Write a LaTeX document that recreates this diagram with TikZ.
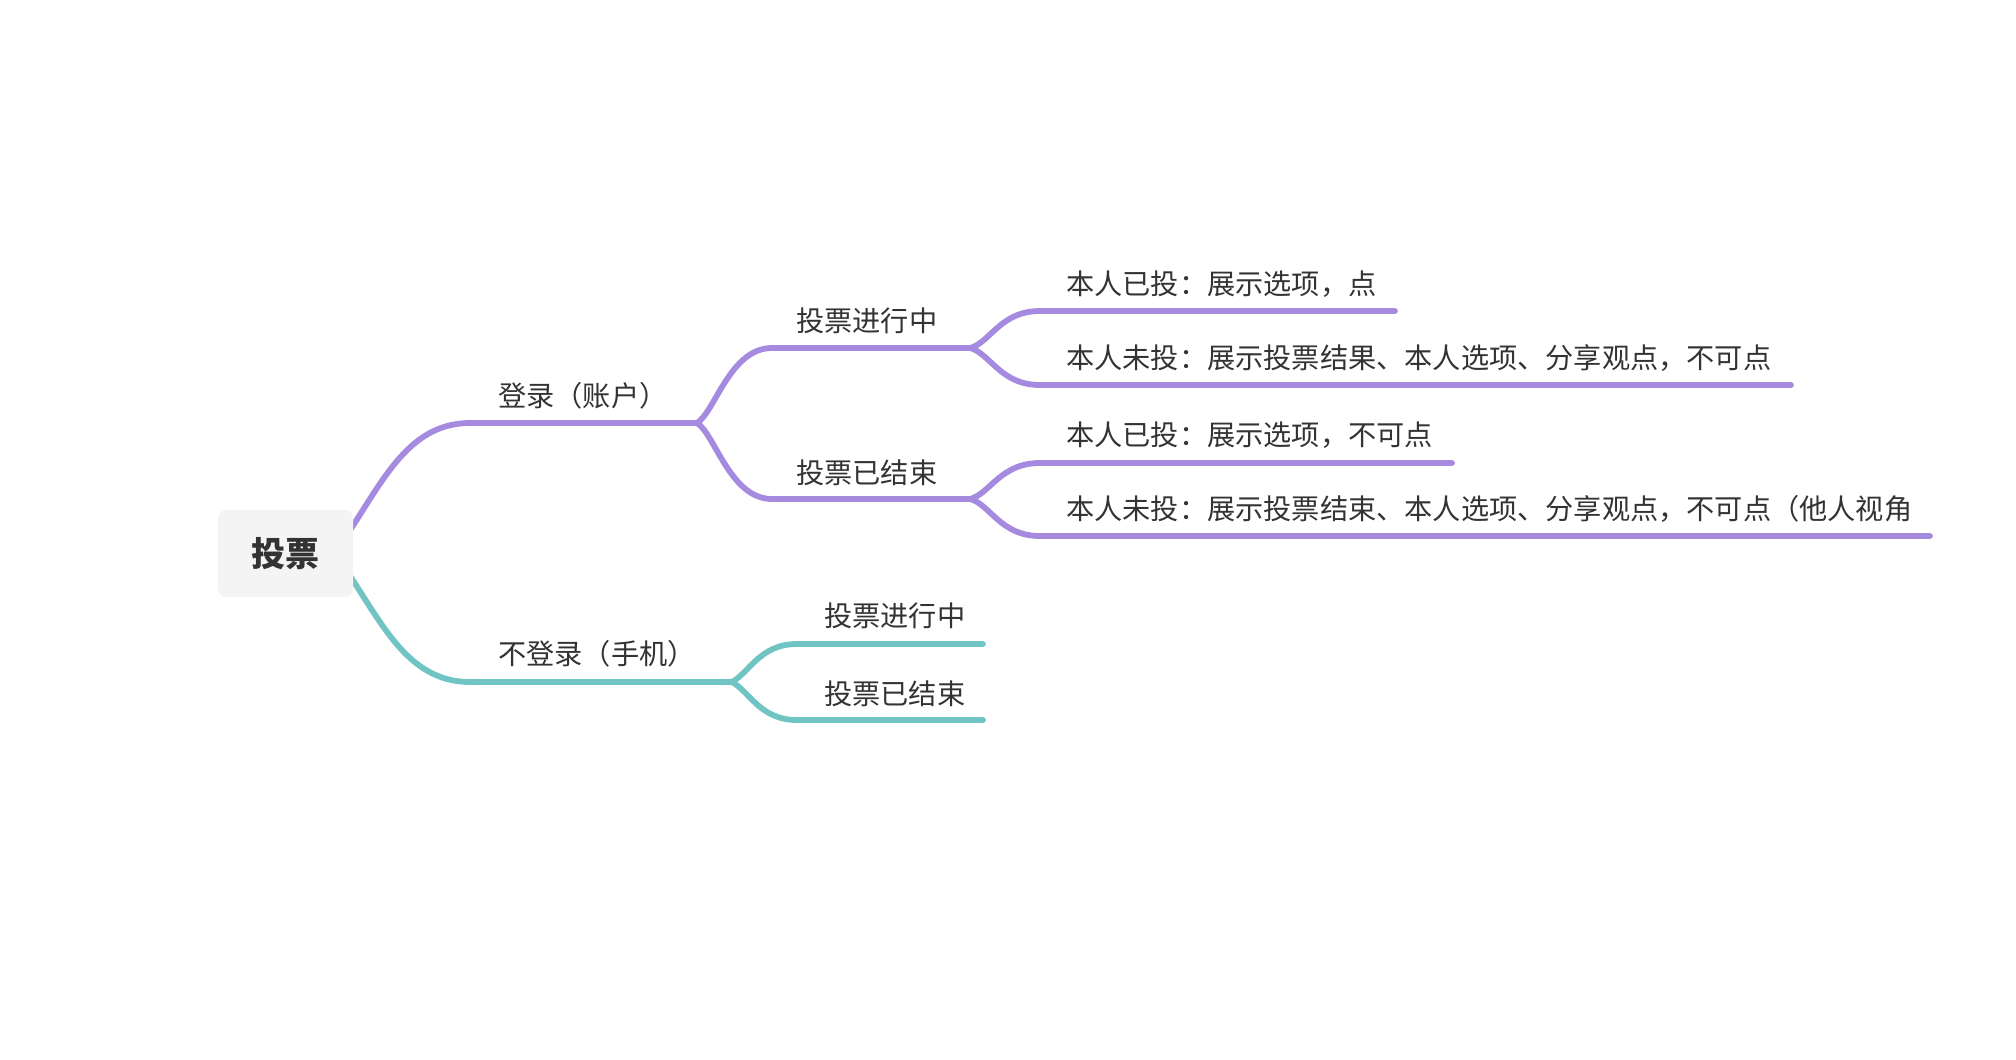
\documentclass[tikz,border=0pt]{standalone}
\usepackage{fontspec}
\setmainfont{Noto Sans CJK SC}
\definecolor{purp}{HTML}{A58ADF}
\definecolor{teal2}{HTML}{70C4C3}
\definecolor{rootbg}{HTML}{F4F4F4}
\definecolor{txt}{HTML}{333333}
\begin{document}
\begin{tikzpicture}[x=1pt,y=-1pt,
  lbl/.style={anchor=west,inner sep=0pt,text height=0.88em,text depth=0.12em,font=\fontsize{28.2}{34}\selectfont,text=txt},
  pline/.style={draw=purp,line width=5.8pt,line cap=round},
  tline/.style={draw=teal2,line width=5.8pt,line cap=round},
  rootbox/.style={fill=rootbg,rounded corners=8pt,minimum width=135pt,minimum height=87pt,inner sep=0pt,text=txt,font=\bfseries\fontsize{34}{40}\selectfont}]
\useasboundingbox (0,0) rectangle (2016,1060);
% start points (behind root box)
\coordinate (ps) at (340,545);
\coordinate (ts) at (340,561);
% level 1
\coordinate (pA) at (470,423);
\coordinate (pF) at (697,423);
\coordinate (tA) at (470,682);
\coordinate (tF) at (732,682);
% level 2 purple
\coordinate (p1a) at (772,348);
\coordinate (p1F) at (970,348);
\coordinate (p2a) at (772,499);
\coordinate (p2F) at (970,499);
% level 2 teal
\coordinate (t1a) at (797,644);
\coordinate (t1e) at (983,644);
\coordinate (t2a) at (797,720);
\coordinate (t2e) at (983,720);
% level 3
\coordinate (l1a) at (1040,311);
\coordinate (l1e) at (1395,311);
\coordinate (l2a) at (1040,385);
\coordinate (l2e) at (1791,385);
\coordinate (l3a) at (1040,463);
\coordinate (l3e) at (1452,463);
\coordinate (l4a) at (1040,536);
\coordinate (l4e) at (1930,536);

% connectors
\draw[pline] (ps) .. controls (380,488) and (405,423) .. (pA) -- (pF);
\draw[tline] (ts) .. controls (380,618) and (405,682) .. (tA) -- (tF);

\draw[pline] (pF) .. controls (715,412) and (730,348) .. (p1a) -- (p1F);
\draw[pline] (pF) .. controls (715,434) and (730,499) .. (p2a) -- (p2F);

\draw[tline] (tF) .. controls (750,672) and (760,644) .. (t1a) -- (t1e);
\draw[tline] (tF) .. controls (750,692) and (760,720) .. (t2a) -- (t2e);

\draw[pline] (p1F) .. controls (990,343) and (1000,311) .. (l1a) -- (l1e);
\draw[pline] (p1F) .. controls (990,353) and (1000,385) .. (l2a) -- (l2e);
\draw[pline] (p2F) .. controls (990,494) and (1000,463) .. (l3a) -- (l3e);
\draw[pline] (p2F) .. controls (990,504) and (1000,536) .. (l4a) -- (l4e);

% root
\node[rootbox] (root) at (285.5,553.5) {投票};

% labels
\node[lbl] (b1) at (498,403) {登录（账户）};
\node[lbl] (b2) at (498,661) {不登录（手机）};
\node[lbl] (c1) at (796,328) {投票进行中};
\node[lbl] (c2) at (796,480) {投票已结束};
\node[lbl] (d1) at (824,623) {投票进行中};
\node[lbl] (d2) at (824,701) {投票已结束};
\node[lbl] (e1) at (1066,291) {本人已投：展示选项，点};
\node[lbl] (e2) at (1066,365) {本人未投：展示投票结果、本人选项、分享观点，不可点};
\node[lbl] (e3) at (1066,442) {本人已投：展示选项，不可点};
\node[lbl] (e4) at (1066,516) {本人未投：展示投票结束、本人选项、分享观点，不可点（他人视角};
\end{tikzpicture}
\end{document}
